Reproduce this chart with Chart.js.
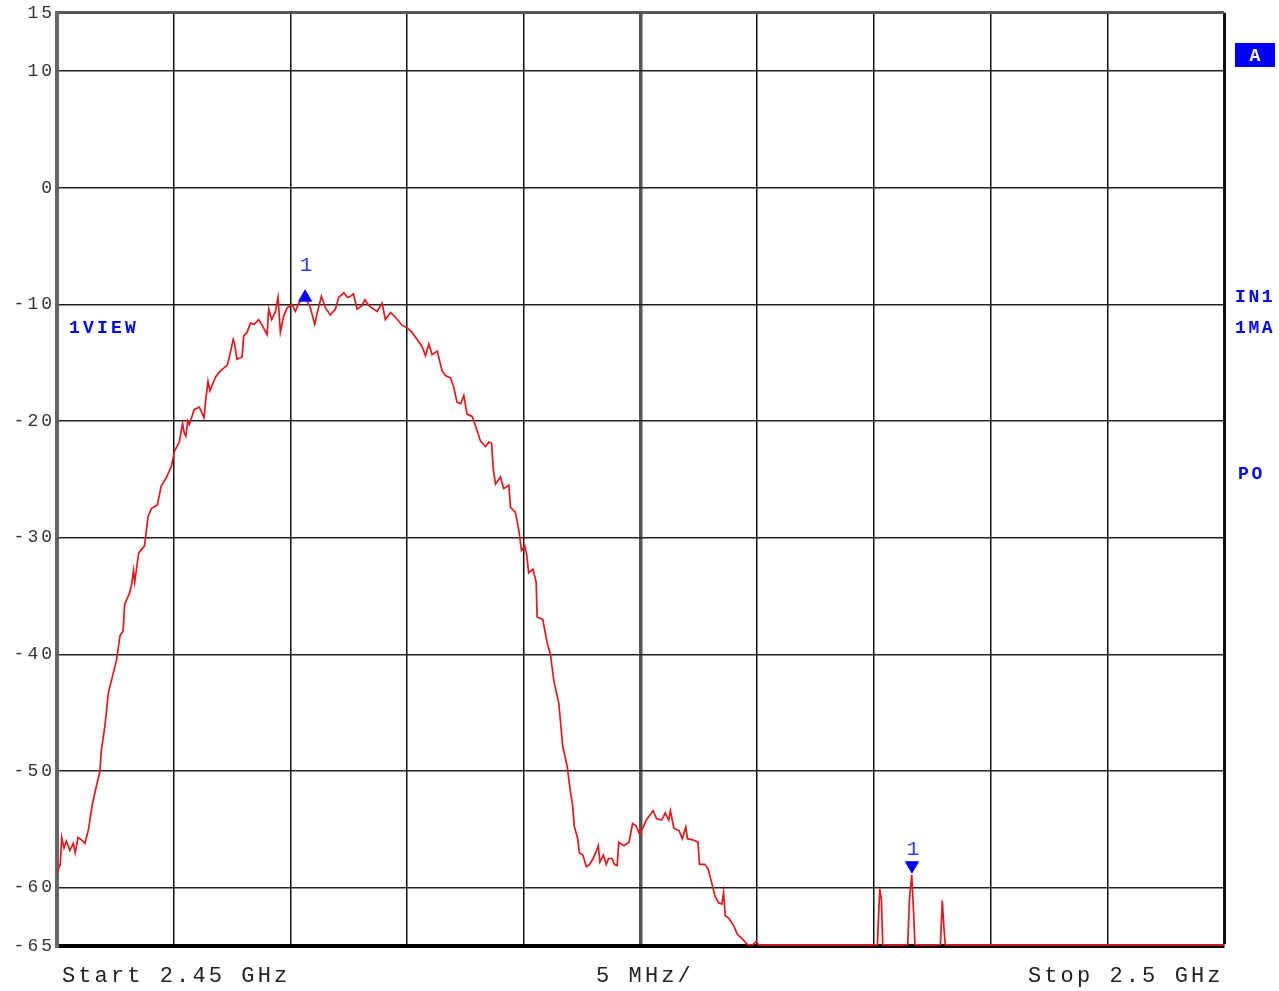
<!DOCTYPE html>
<html lang="en">
<head>
<meta charset="UTF-8">
<title>Spectrum 2.45 - 2.5 GHz</title>
<script src="https://cdn.jsdelivr.net/npm/chart.js"></script>
<style>
    html, body { margin: 0; padding: 0; background: #fff; }
    #wrap { width: 1279px; height: 991px; }
</style>
</head>
<body>
<div id="wrap"><canvas id="spec" width="1279" height="991"></canvas></div>
<script>
    // trace: frequency in MHz, level in dB
    const freqMHz = [
        2450.00, 2450.14, 2450.20, 2450.30, 2450.40, 2450.55, 2450.70, 2450.78, 2450.90, 2451.05,
        2451.20, 2451.35, 2451.50, 2451.63, 2451.84, 2451.90, 2452.05, 2452.20, 2452.35, 2452.55,
        2452.70, 2452.83, 2452.90, 2453.10, 2453.20, 2453.28, 2453.33, 2453.50, 2453.75, 2453.90,
        2454.04, 2454.30, 2454.46, 2454.67, 2454.90, 2455.03, 2455.24, 2455.38, 2455.45, 2455.52,
        2455.60, 2455.67, 2455.88, 2456.10, 2456.30, 2456.37, 2456.47, 2456.55, 2456.80, 2457.00,
        2457.30, 2457.43, 2457.55, 2457.60, 2457.71, 2457.93, 2458.00, 2458.14, 2458.29, 2458.45,
        2458.64, 2458.79, 2459.00, 2459.07, 2459.20, 2459.36, 2459.47, 2459.57, 2459.71, 2459.86,
        2460.07, 2460.21, 2460.36, 2460.50, 2460.60, 2460.71, 2460.86, 2461.04, 2461.19, 2461.33,
        2461.50, 2461.71, 2461.93, 2462.07, 2462.29, 2462.45, 2462.57, 2462.70, 2462.86, 2463.07,
        2463.19, 2463.36, 2463.50, 2463.71, 2463.93, 2464.07, 2464.29, 2464.50, 2464.79, 2465.00,
        2465.21, 2465.43, 2465.64, 2465.79, 2465.93, 2466.07, 2466.29, 2466.50, 2466.64, 2466.86,
        2467.00, 2467.14, 2467.30, 2467.43, 2467.57, 2467.79, 2468.00, 2468.14, 2468.36, 2468.50,
        2468.62, 2468.69, 2468.79, 2469.00, 2469.14, 2469.36, 2469.43, 2469.64, 2469.79, 2469.90,
        2470.04, 2470.12, 2470.21, 2470.39, 2470.53, 2470.57, 2470.81, 2471.00, 2471.14, 2471.29,
        2471.50, 2471.67, 2471.86, 2472.00, 2472.09, 2472.16, 2472.31, 2472.38, 2472.53, 2472.68,
        2472.82, 2472.97, 2473.12, 2473.19, 2473.26, 2473.41, 2473.53, 2473.63, 2473.78, 2473.88,
        2474.00, 2474.07, 2474.29, 2474.51, 2474.66, 2474.81, 2474.96, 2475.10, 2475.25, 2475.40,
        2475.54, 2475.69, 2475.91, 2476.06, 2476.21, 2476.28, 2476.43, 2476.65, 2476.79, 2476.94,
        2477.01, 2477.24, 2477.46, 2477.53, 2477.75, 2477.90, 2478.04, 2478.19, 2478.34, 2478.49,
        2478.56, 2478.63, 2478.78, 2479.00, 2479.15, 2479.37, 2479.59, 2479.81, 2479.96, 2480.05,
        2482.00, 2485.15, 2485.25, 2485.32, 2485.38, 2486.45, 2486.52, 2486.62, 2486.70, 2486.76,
        2487.85, 2487.93, 2488.00, 2488.06, 2500.00
    ];
    const levelDb = [
        -58.7, -58.0, -55.7, -56.6, -56.0, -56.8, -56.2, -57.0, -55.7, -55.9,
        -56.2, -55.0, -53.0, -51.8, -50.0, -48.2, -46.2, -43.3, -42.1, -40.5,
        -38.4, -38.0, -35.7, -34.8, -34.0, -32.8, -33.8, -31.3, -30.7, -28.2,
        -27.5, -27.2, -25.6, -24.9, -23.9, -22.6, -21.8, -20.2, -21.0, -21.3,
        -20.0, -20.3, -19.0, -18.8, -19.7, -18.2, -16.6, -17.4, -16.2, -15.7,
        -15.2, -14.1, -13.0, -13.3, -14.7, -14.5, -12.7, -12.4, -11.6, -11.7,
        -11.3, -11.8, -12.6, -10.4, -11.3, -10.6, -9.4, -12.4, -11.0, -10.3,
        -10.0, -10.6, -9.9, -9.6, -9.5, -9.7, -10.3, -11.7, -10.4, -9.3,
        -10.3, -10.9, -10.4, -9.4, -9.0, -9.4, -9.3, -9.1, -10.4, -10.1,
        -9.6, -10.1, -10.3, -10.6, -9.9, -11.3, -10.7, -11.1, -11.8, -12.0,
        -12.4, -13.0, -13.6, -14.4, -13.4, -14.3, -14.0, -15.7, -16.1, -16.3,
        -17.1, -18.4, -18.5, -17.8, -19.4, -19.6, -20.8, -21.7, -22.2, -21.8,
        -21.9, -24.1, -25.4, -24.8, -25.8, -25.5, -27.4, -27.8, -29.4, -31.1,
        -30.7, -31.4, -33.0, -32.7, -33.8, -36.8, -37.0, -39.0, -40.0, -42.3,
        -44.2, -47.9, -49.6, -51.8, -52.9, -54.7, -55.8, -57.0, -57.2, -58.2,
        -58.0, -57.5, -56.8, -56.4, -57.8, -57.2, -58.0, -57.5, -57.5, -58.0,
        -58.1, -56.1, -56.4, -56.1, -54.5, -54.7, -55.4, -54.9, -54.2, -53.8,
        -53.4, -54.1, -54.2, -53.6, -54.2, -53.4, -54.9, -55.1, -55.8, -54.8,
        -55.8, -55.9, -56.1, -58.0, -58.0, -58.4, -59.5, -60.7, -61.3, -61.4,
        -60.4, -62.4, -62.6, -63.3, -64.0, -64.4, -64.9, -64.9, -64.6, -64.9,
        -64.9, -64.9, -60.1, -61.0, -64.9, -64.9, -61.1, -58.9, -62.1, -64.9,
        -64.9, -61.1, -63.4, -64.9, -64.9
    ];

    const markerFreq = [2460.63, 2486.63];
    const markerLevel = [-9.4, -58.1];
    const markerNames = ['1', '1'];
    const markerUp = [true, false];

    const yTicks = [15, 10, 0, -10, -20, -30, -40, -50, -60, -65];
    const xStart = 2450, xStop = 2500, xStep = 5;

    const BLUE = '#0000ff';

    // all the screen text of the analyser that is not a tick label
    const screenText = {
        id: 'screenText',
        beforeDraw(chart) {
            chart.ctx.letterSpacing = '3px';
        },
        afterDraw(chart) {
            const ctx = chart.ctx;
            const xs = chart.scales.x, ys = chart.scales.y;
            ctx.save();
            ctx.textBaseline = 'middle';

            // marker numbers
            ctx.letterSpacing = '0px';
            ctx.font = '21px "Liberation Mono"';
            ctx.fillStyle = '#2a3cff';
            ctx.textAlign = 'center';
            markerFreq.forEach((f, i) => {
                const px = xs.getPixelForValue(f);
                const py = ys.getPixelForValue(markerLevel[i]);
                ctx.fillText(markerNames[i], px + 1, py - (markerUp[i] ? 32 : 16));
            });

            // bottom line
            ctx.textAlign = 'left';
            ctx.fillStyle = '#222';
            ctx.font = '22px "Liberation Mono"';
            ctx.letterSpacing = '3.1px';
            ctx.fillText('Start 2.45 GHz', 62, 976);
            ctx.fillText('5 MHz/', 596, 976);
            ctx.fillText('Stop 2.5 GHz', 1028, 976);

            // blue status text
            ctx.fillStyle = BLUE;
            ctx.font = 'bold 18px "Liberation Mono"';
            ctx.letterSpacing = '3.2px';
            ctx.fillText('1VIEW', 69, 328);
            ctx.letterSpacing = '2.6px';
            ctx.fillText('IN1', 1235, 297);
            ctx.fillText('1MA', 1235, 328);
            ctx.fillText('PO', 1238, 474);

            ctx.fillRect(1235, 43, 40, 24);
            ctx.fillStyle = '#fff';
            ctx.letterSpacing = '0px';
            ctx.textAlign = 'center';
            ctx.fillText('A', 1255, 56);
            ctx.restore();
        }
    };

    window.onload = () => {
        const ctx = document.getElementById('spec').getContext('2d');
        new Chart(ctx, {
            type: 'line',
            data: {
                datasets: [
                    {
                        type: 'scatter',
                        label: 'Marker',
                        data: markerFreq.map((f, i) => ({ x: f, y: markerLevel[i] })),
                        pointStyle: 'triangle',
                        pointRadius: 7.5,
                        pointRotation: c => markerUp[c.dataIndex] ? 0 : 180,
                        backgroundColor: BLUE,
                        borderColor: BLUE,
                        borderWidth: 1,
                        order: 1
                    },
                    {
                        label: 'Trace',
                        data: freqMHz.map((f, i) => ({ x: f, y: levelDb[i] })),
                        borderColor: 'rgb(228, 24, 28)',
                        borderWidth: 1.7,
                        pointRadius: 0,
                        tension: 0,
                        order: 2
                    }
                ]
            },
            options: {
                responsive: false,
                animation: false,
                devicePixelRatio: 1,
                layout: { padding: { top: 12, right: 55, left: 0, bottom: 0 } },
                plugins: { legend: { display: false }, tooltip: { enabled: false } },
                scales: {
                    x: {
                        type: 'linear',
                        min: xStart,
                        max: xStop,
                        afterFit: s => { s.height = 45; },
                        ticks: { display: false, stepSize: xStep },
                        grid: {
                            drawTicks: false,
                            color: c => c.tick && c.tick.value === 2475 ? '#555' : '#111',
                            lineWidth: c => {
                                if (!c.tick) return 1.5;
                                if (c.tick.value === 2475) return 3.5;
                                if (c.tick.value === xStop) return 3;
                                return 1.5;
                            }
                        },
                        border: { color: '#000', width: 4 }
                    },
                    y: {
                        min: -65,
                        max: 15,
                        afterBuildTicks: s => { s.ticks = yTicks.map(v => ({ value: v })); },
                        afterFit: s => { s.width = 57; },
                        ticks: {
                            font: { family: 'Liberation Mono', size: 18 },
                            color: '#333',
                            padding: 2,
                            autoSkip: false
                        },
                        grid: {
                            drawTicks: false,
                            color: c => c.tick && c.tick.value === 15 ? '#555' : '#222',
                            lineWidth: c => c.tick && c.tick.value === 15 ? 3 : 1.5
                        },
                        border: { color: '#666', width: 4 }
                    }
                }
            },
            plugins: [screenText]
        });
    };
</script>
</body>
</html>
